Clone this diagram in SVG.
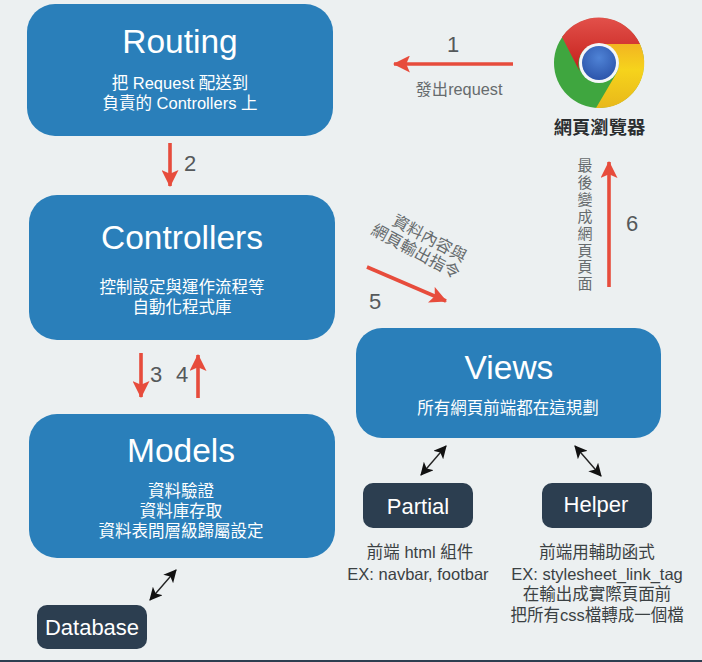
<svg xmlns="http://www.w3.org/2000/svg" width="702" height="662" viewBox="0 0 702 662">
<defs>
<style>
text{font-family:"Liberation Sans","Noto Sans CJK TC",sans-serif;text-anchor:middle}
.box{fill:#2a7fba}
.dark{fill:#2c3e50}
.title{fill:#fff;font-size:33.5px}
.sub{fill:#fff;font-size:16.5px}
.dt{fill:#fff;font-size:22px}
.cap{fill:#3b4143;font-size:16.5px}
.num{fill:#55595b;font-size:22px}
.note{fill:#666b6d;font-size:16.3px}
.vert{fill:#666b6d;font-size:15px}
.red{stroke:#e74c3c;stroke-width:3.6;fill:none}
.blk{stroke:#222;stroke-width:1.4;fill:none}
</style>
<marker id="ra" viewBox="0 0 16 16" refX="15" refY="8" markerWidth="17" markerHeight="17" markerUnits="userSpaceOnUse" orient="auto"><path d="M0 0L16 8L0 16L3.5 8Z" fill="#e74c3c"/></marker>
<marker id="ba" viewBox="0 0 12 12" refX="11" refY="6" markerWidth="13" markerHeight="13" markerUnits="userSpaceOnUse" orient="auto-start-reverse"><path d="M0 0L12 6L0 12L3 6Z" fill="#111"/></marker>
<radialGradient id="bl" cx="0.5" cy="0.35" r="0.7"><stop offset="0" stop-color="#4f83d6"/><stop offset="1" stop-color="#2a52a8"/></radialGradient>
<linearGradient id="rd" x1="0.5" y1="0" x2="0.5" y2="1"><stop offset="0" stop-color="#e2504a"/><stop offset="1" stop-color="#c41f1a"/></linearGradient>
<linearGradient id="yl" x1="0.5" y1="0" x2="0.5" y2="1"><stop offset="0" stop-color="#f2b521"/><stop offset="0.4" stop-color="#f6d31c"/><stop offset="1" stop-color="#e8b81a"/></linearGradient>
</defs>
<rect width="702" height="662" fill="#ecf0f1"/>
<rect x="0" y="660" width="702" height="2" fill="#2c3e50"/>

<g id="connectors">
<path class="red" d="M513 64H394" marker-end="url(#ra)"/>
<path class="red" d="M170 143V186" marker-end="url(#ra)"/>
<path class="red" d="M141 353V397" marker-end="url(#ra)"/>
<path class="red" d="M198 398V355" marker-end="url(#ra)"/>
<path class="red" d="M367 267L446 301" marker-end="url(#ra)"/>
<path class="red" d="M609 287V162" marker-end="url(#ra)"/>
<path class="blk" d="M421 475L446 446" marker-start="url(#ba)" marker-end="url(#ba)"/>
<path class="blk" d="M601 476L575 446" marker-start="url(#ba)" marker-end="url(#ba)"/>
<path class="blk" d="M150 600L176 570" marker-start="url(#ba)" marker-end="url(#ba)"/>
</g>

<g id="routing">
<rect class="box" x="27" y="4" width="306" height="132" rx="28"/>
<text class="title" x="180" y="53">Routing</text>
<text class="sub" x="180" y="89">把 Request 配送到</text>
<text class="sub" x="180" y="109">負責的 Controllers 上</text>
</g>
<g id="controllers">
<rect class="box" x="29" y="195" width="306" height="145" rx="28"/>
<text class="title" x="182" y="249">Controllers</text>
<text class="sub" x="182" y="293">控制設定與運作流程等</text>
<text class="sub" x="182" y="313">自動化程式庫</text>
</g>
<g id="models">
<rect class="box" x="29" y="414" width="306" height="144" rx="28"/>
<text class="title" x="181" y="462">Models</text>
<text class="sub" x="181" y="497">資料驗證</text>
<text class="sub" x="181" y="516.5">資料庫存取</text>
<text class="sub" x="181" y="537">資料表間層級歸屬設定</text>
</g>
<g id="views">
<rect class="box" x="356" y="328" width="305" height="110" rx="26"/>
<text class="title" x="509" y="379">Views</text>
<text class="sub" x="508" y="414">所有網頁前端都在這規劃</text>
</g>
<g id="partial">
<rect class="dark" x="363" y="483" width="110" height="45" rx="10"/>
<text class="dt" x="418" y="514">Partial</text>
<text class="cap" x="420" y="558">前端 html 組件</text>
<text class="cap" x="418" y="580">EX: navbar, footbar</text>
</g>
<g id="helper">
<rect class="dark" x="542" y="483" width="110" height="45" rx="10"/>
<text class="dt" x="596" y="512">Helper</text>
<text class="cap" x="597" y="558">前端用輔助函式</text>
<text class="cap" x="597" y="580">EX: stylesheet_link_tag</text>
<text class="cap" x="597" y="600">在輸出成實際頁面前</text>
<text class="cap" x="597" y="621">把所有css檔轉成一個檔</text>
</g>
<g id="database">
<rect class="dark" x="37" y="605" width="110" height="44" rx="10"/>
<text class="dt" x="92" y="635">Database</text>
</g>
<g id="browser">
<circle cx="599" cy="63" r="45" fill="#3fa63f"/>
<path d="M562 37A45 45 0 0 1 640 44H599A20 20 0 0 0 580 72Z" fill="url(#rd)"/>
<path d="M640 44A45 45 0 0 1 596 108L616 74A20 20 0 0 0 599 44Z" fill="url(#yl)"/>
<circle cx="599" cy="63" r="20" fill="#f4f6f8"/>
<circle cx="599" cy="63" r="17" fill="url(#bl)"/>
<text x="599.5" y="134" style="font-size:18.3px;font-weight:700;fill:#2b2e30">網頁瀏覽器</text>
</g>

<g id="labels">
<text class="num" x="453" y="52">1</text>
<text class="note" x="459" y="95">發出request</text>
<text class="num" x="190" y="171">2</text>
<text class="num" x="156" y="382">3</text>
<text class="num" x="182" y="382">4</text>
<text class="num" x="375" y="309">5</text>
<text class="num" x="632" y="231">6</text>
<g transform="rotate(28 420 250)">
<text class="note" x="423" y="241">資料內容與</text>
<text class="note" x="417" y="259">網頁輸出指令</text>
</g>
<text class="vert" x="585" y="171">最</text>
<text class="vert" x="585" y="188">後</text>
<text class="vert" x="585" y="205">變</text>
<text class="vert" x="585" y="222">成</text>
<text class="vert" x="585" y="239">網</text>
<text class="vert" x="585" y="255.5">頁</text>
<text class="vert" x="585" y="272">頁</text>
<text class="vert" x="585" y="289">面</text>
</g>
</svg>
